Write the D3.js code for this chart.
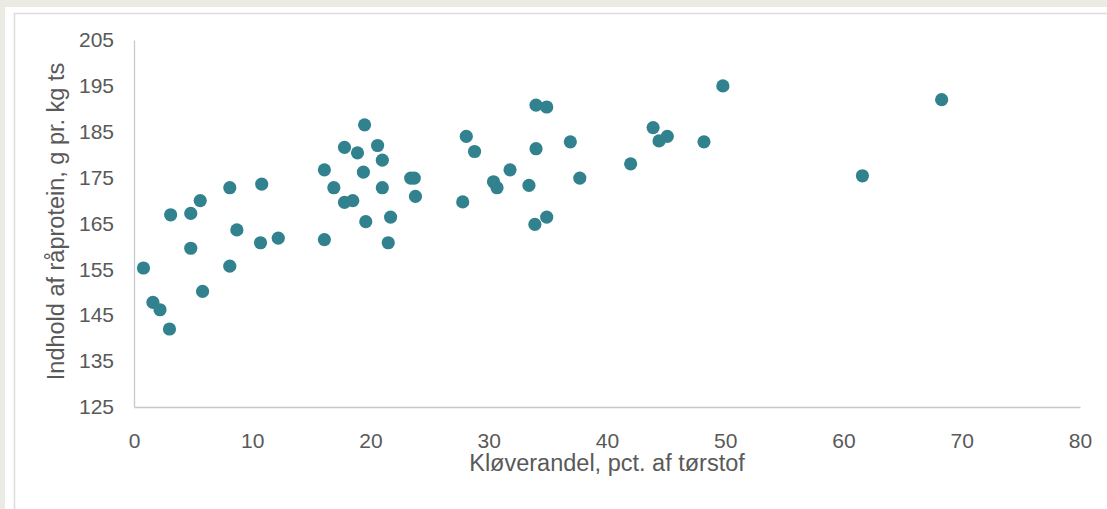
<!DOCTYPE html>
<html>
<head>
<meta charset="utf-8">
<script src="https://cdn.jsdelivr.net/npm/d3@7"></script>
<style>
  html, body { margin: 0; padding: 0; background: #ebeae3; }
  svg { display: block; font-family: "Liberation Sans", Arial, sans-serif; }
  .axis path { stroke: #c8c8c8; stroke-width: 1.3; }
  .axis text { fill: #595959; font-size: 21px; }
  .title { fill: #595959; font-size: 23.5px; }
</style>
</head>
<body>
<div id="chart"></div>
<script>
// clover share (pct. of dry matter) and crude protein (g per kg dm)
const cloverShare = [
  0.8, 1.6, 2.2, 3.0, 3.1, 4.8, 4.8, 5.6, 5.8, 8.1,
  8.1, 8.7, 10.7, 10.8, 12.2, 16.1, 16.1, 16.9, 17.8, 17.8,
  18.5, 18.9, 19.5, 19.4, 19.6, 20.6, 21.0, 21.0, 21.7, 21.5,
  23.4, 23.7, 23.8, 27.8, 28.1, 28.8, 30.4, 30.7, 31.8, 33.4,
  34.0, 34.0, 33.9, 34.9, 34.9, 36.9, 37.7, 42.0, 43.9, 44.4,
  45.1, 48.2, 49.8, 61.6, 68.3
];
const crudeProtein = [
  155.3, 147.8, 146.2, 142.0, 166.9, 167.2, 159.6, 170.0, 150.2, 172.8,
  155.7, 163.6, 160.8, 173.6, 161.8, 176.7, 161.5, 172.8, 181.6, 169.6,
  170.0, 180.4, 186.5, 176.2, 165.4, 182.0, 178.8, 172.8, 166.4, 160.8,
  174.9, 174.9, 170.9, 169.7, 184.0, 180.7, 174.1, 172.8, 176.7, 173.3,
  190.8, 181.3, 164.8, 190.4, 166.4, 182.8, 174.9, 178.0, 185.9, 183.0,
  184.0, 182.8, 195.0, 175.4, 192.0
];
const xTicks = [0, 10, 20, 30, 40, 50, 60, 70, 80];
const yTicks = [125, 135, 145, 155, 165, 175, 185, 195, 205];
const xLabel = "Kløverandel, pct. af tørstof";
const yLabel = "Indhold af råprotein, g pr. kg ts";

const w = 1107, h = 509;
const margins = { top: 40, right: 27, bottom: 102, left: 134 };
const width = w - margins.left - margins.right;
const height = h - margins.top - margins.bottom;

const svg = d3.select("#chart").append("svg")
  .attr("width", w)
  .attr("height", h);

// page frame
svg.append("rect").attr("width", w).attr("height", h).attr("fill", "#ebeae3");
svg.append("rect").attr("x", 5).attr("y", 7).attr("width", w).attr("height", h).attr("fill", "#fff");
svg.append("rect")
  .attr("x", 14.5).attr("y", 13.5)
  .attr("width", w).attr("height", h)
  .attr("fill", "none")
  .attr("stroke", "#dcdcdc")
  .attr("stroke-width", 1.5);

const x = d3.scaleLinear()
  .domain([0, 80])
  .range([0, width]);

const y = d3.scaleLinear()
  .domain([125, 205])
  .range([height, 0]);

const chart = svg.append("g")
  .attr("transform", `translate(${margins.left}, ${margins.top})`);

chart.append("g")
  .attr("class", "x axis")
  .attr("transform", `translate(0, ${height})`)
  .call(d3.axisBottom(x).tickValues(xTicks).tickSize(0).tickPadding(26).tickSizeOuter(0))
  .call(g => g.selectAll(".tick line").remove());

chart.append("g")
  .attr("class", "y axis")
  .call(d3.axisLeft(y).tickValues(yTicks).tickSize(0).tickPadding(20).tickSizeOuter(0))
  .call(g => g.selectAll(".tick line").remove());

// axis titles
svg.append("text")
  .attr("class", "title")
  .attr("x", margins.left + width / 2)
  .attr("y", 471)
  .attr("text-anchor", "middle")
  .text(xLabel);

svg.append("text")
  .attr("class", "title")
  .attr("transform", `translate(64, ${margins.top + height / 2 - 2}) rotate(-90)`)
  .attr("text-anchor", "middle")
  .text(yLabel);

// points
chart.selectAll(".dot")
  .data(cloverShare.map((v, i) => ({ x: v, y: crudeProtein[i] })))
  .enter().append("circle")
  .attr("class", "dot")
  .attr("cx", d => x(d.x))
  .attr("cy", d => y(d.y))
  .attr("r", 6.6)
  .attr("fill", "#31828e");
</script>
</body>
</html>
